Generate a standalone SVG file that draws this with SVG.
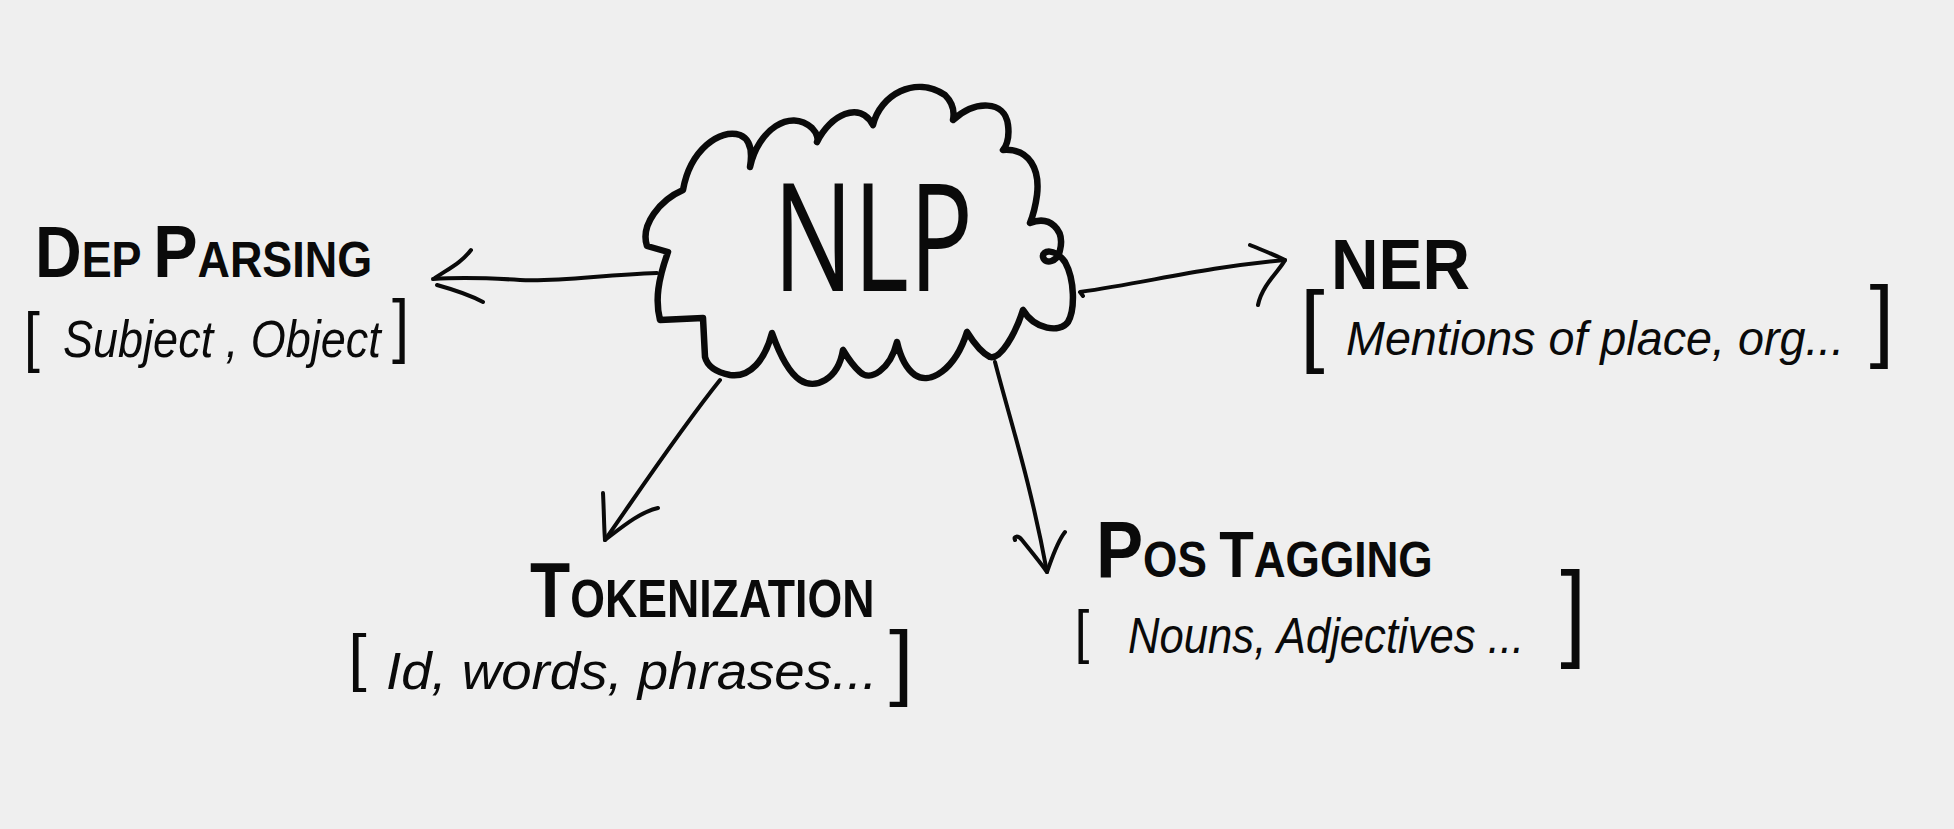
<svg xmlns="http://www.w3.org/2000/svg" width="1954" height="829" viewBox="0 0 1954 829">
<style>
.ink{fill:none;stroke:#0a0a0a;stroke-linecap:round;stroke-linejoin:round}
.cloud{stroke-width:6.5}
.conn{stroke-width:4}
.head{font-family:"Liberation Sans","DejaVu Sans",sans-serif;font-weight:bold;fill:#0a0a0a}
.sub{font-family:"Liberation Sans","DejaVu Sans",sans-serif;font-style:italic;fill:#0a0a0a}
.br{font-style:normal;font-weight:normal}
.big{font-family:"Open Sans","Liberation Sans",sans-serif;font-weight:400;fill:#0a0a0a}
</style>
<rect width="1954" height="829" fill="#efefef"/>
<g id="connectors" class="ink conn">
  <g id="c-dep">
    <path d="M657,273 C600,275 560,282 520,280 C490,278 460,277 433,279"/>
    <path d="M471,250 C462,262 450,268 435,278 M437,285 C455,290 470,295 483,302"/>
  </g>
  <g id="c-ner">
    <path d="M1083,296 L1080,292 C1150,282 1200,268 1285,260"/>
    <path d="M1250,245 C1262,250 1275,255 1285,260 C1280,270 1262,285 1258,305"/>
  </g>
  <g id="c-tok">
    <path d="M720,380 C680,430 640,490 605,540"/>
    <path d="M603,493 C604,512 604,528 605,540 C622,527 640,512 658,508"/>
  </g>
  <g id="c-pos">
    <path d="M995,362 C1010,420 1030,480 1047,572"/>
    <path d="M1015,540 C1013,536 1018,535 1022,540 C1030,550 1040,562 1047,572 C1052,558 1057,542 1065,532"/>
  </g>
</g>
<g id="node-nlp">
  <path class="ink cloud" d="M683,190 C690,150 720,128 740,135 C752,140 752,155 750,167 C758,130 790,108 812,128 C818,134 818,140 817,142 C830,115 860,100 873,125 C880,95 915,75 945,95 C952,102 955,110 953,120 C975,100 1005,100 1008,125 C1010,140 1005,148 1003,150 C1030,148 1040,170 1037,195 C1035,210 1032,218 1030,223 C1050,215 1065,230 1060,250 C1058,262 1045,265 1043,257 C1042,250 1055,248 1065,262 C1075,280 1075,310 1068,322 C1060,333 1035,330 1023,310 C1015,335 1000,360 990,357 C980,352 972,340 967,332 C955,370 930,385 915,375 C905,368 900,355 897,342 C890,370 870,382 860,372 C852,365 846,355 843,350 C838,380 815,390 800,380 C788,372 778,350 772,333 C765,360 750,378 730,375 C715,372 707,365 705,357 L703,318 L660,320 C655,300 658,280 668,252 L647,246 C640,225 660,200 683,190 Z"/>
  <text class="big" x="773" y="291" font-size="150" textLength="200" lengthAdjust="spacingAndGlyphs">NLP</text>
</g>
<g id="node-dep">
  <text class="head" transform="matrix(0.898,0,0,1,35,0)" x="0" y="277"><tspan font-size="72">D</tspan><tspan font-size="50">EP </tspan><tspan font-size="74">P</tspan><tspan font-size="50">ARSING</tspan></text>
  <text class="sub" font-size="52" transform="matrix(0.866,0,0,1,63,0)"><tspan class="br" font-size="66" x="-45" y="359">[</tspan><tspan x="0" y="357">Subject , Object</tspan><tspan class="br" font-size="71" x="380" y="349">]</tspan></text>
</g>
<g id="node-ner">
  <text class="head" font-size="70" transform="matrix(0.94,0,0,1,1331,0)" x="0" y="289">NER</text>
  <text class="sub" font-size="48" transform="matrix(0.973,0,0,1,1346,0)"><tspan class="br" font-size="90" x="-47" y="355">[</tspan><tspan x="0" y="355">Mentions of place, org...</tspan><tspan class="br" font-size="91" x="538" y="350">]</tspan></text>
</g>
<g id="node-tok">
  <text class="head" transform="matrix(0.843,0,0,1,530,0)" x="0" y="617"><tspan font-size="78">T</tspan><tspan font-size="53">OKENIZATION</tspan></text>
  <text class="sub" font-size="52" transform="matrix(1.05,0,0,1,386,0)"><tspan class="br" font-size="63" x="-36" y="679">[</tspan><tspan x="0" y="689">Id, words, phrases...</tspan><tspan class="br" font-size="84" x="479" y="690">]</tspan></text>
</g>
<g id="node-pos">
  <text class="head" transform="matrix(0.883,0,0,1,1096,0)" x="0" y="577"><tspan font-size="80">P</tspan><tspan font-size="50">OS </tspan><tspan font-size="64">T</tspan><tspan font-size="50">AGGING</tspan></text>
  <text class="sub" font-size="50" transform="matrix(0.873,0,0,1,1128,0)"><tspan class="br" font-size="60" x="-61" y="652">[</tspan><tspan x="0" y="653">Nouns, Adjectives ...</tspan><tspan class="br" font-size="107" x="495" y="647">]</tspan></text>
</g>
</svg>
